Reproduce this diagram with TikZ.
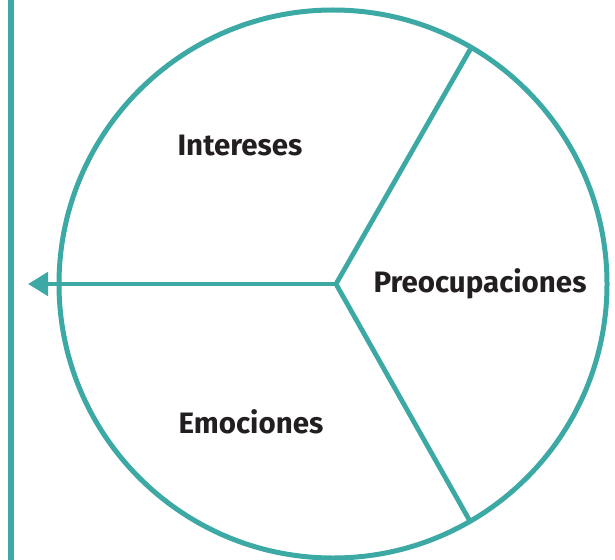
\documentclass[tikz,border=0pt]{standalone}
\usepackage{fontspec}
\setmainfont{Fira Sans}
\usetikzlibrary{arrows.meta}
\definecolor{teal1}{HTML}{3DA9A5}
\definecolor{txt}{HTML}{231F20}
\begin{document}
\begin{tikzpicture}[x=1pt,y=-1pt,
  ring/.style={draw=teal1,line width=5pt},
  spoke/.style={draw=teal1,line width=4.8pt},
  lbl/.style={text=txt,font=\fontsize{29.5}{33}\selectfont\bfseries,inner sep=0pt}]
\useasboundingbox (0,0) rectangle (615,559);
\fill[white] (0,0) rectangle (615,559);
\coordinate (vtop) at (11,-5);
\coordinate (vbot) at (11,565);
\draw[teal1,line width=5.5pt] (vtop) -- (vbot);
\node[circle,ring,minimum size=548pt,inner sep=0pt] (c) at (333,284) {};
\coordinate (o) at (336,284);
\coordinate (tp) at (471,48);
\coordinate (bt) at (471,523);
\coordinate (ar) at (28,284);
\draw[spoke] (o) -- (tp);
\draw[spoke] (o) -- (bt);
\draw[spoke,-{Triangle[length=20pt,width=23pt]}] (o) -- (ar);
\node[lbl] (i) at (240,146) {Intereses};
\node[lbl] (p) at (480,284) {Preocupaciones};
\node[lbl] (e) at (251,422) {Emociones};
\end{tikzpicture}
\end{document}
